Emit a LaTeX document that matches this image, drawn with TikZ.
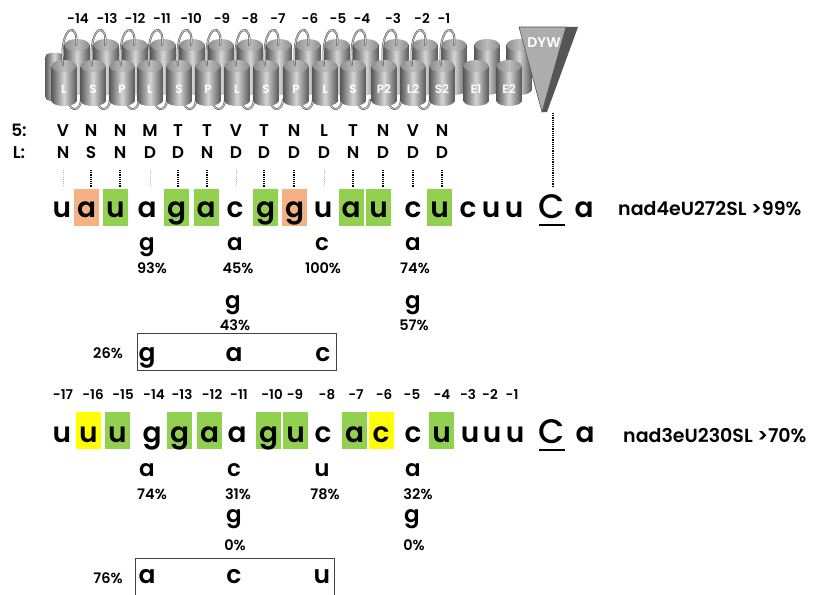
\documentclass[tikz,border=0pt]{standalone}
\usepackage{fontspec}
\setmainfont{Poppins}
\IfFontExistsTF{Poppins SemiBold}{\newfontfamily\seqfont{Poppins SemiBold}}{\newcommand\seqfont{\bfseries}}
\IfFontExistsTF{Poppins Medium}{\newfontfamily\medfont{Poppins Medium}}{\newcommand\medfont{\bfseries}}
\definecolor{hlgreen}{HTML}{92D050}
\definecolor{hlorange}{HTML}{F4B183}
\definecolor{hlyellow}{HTML}{FFFF00}
\definecolor{cyldark}{HTML}{5A5A5A}
\definecolor{cyllight}{HTML}{D6D6D6}
\definecolor{capdark}{HTML}{8C8C8C}
\definecolor{caplight}{HTML}{BDBDBD}
\definecolor{loopcol}{HTML}{5C5C5C}
\definecolor{dywlight}{HTML}{ADADAD}
\definecolor{dywdark}{HTML}{555555}
\begin{document}
\begin{tikzpicture}[x=1pt,y=-1pt,
  posnum/.style={font=\fontsize{13.5}{13.5}\selectfont\seqfont, anchor=base, inner sep=0pt},
  resid/.style={font=\fontsize{17}{17}\selectfont\seqfont, anchor=base, inner sep=0pt},
  nt/.style={font=\fontsize{28}{28}\selectfont\seqfont, anchor=base, inner sep=0pt},
  bigC/.style={font=\fontsize{34}{34}\selectfont\medfont, anchor=base, inner sep=0pt},
  altnt/.style={font=\fontsize{23}{23}\selectfont\seqfont, anchor=base, inner sep=0pt},
  boxnt/.style={font=\fontsize{25}{25}\selectfont\seqfont, anchor=base, inner sep=0pt},
  pct/.style={font=\fontsize{14.5}{14.5}\selectfont\seqfont, anchor=base, inner sep=0pt},
  tag/.style={font=\fontsize{19}{19}\selectfont\seqfont, anchor=base west, inner sep=0pt},
  hlbox/.style={minimum width=25pt, minimum height=37pt, inner sep=0pt},
  motif/.style={font=\fontsize{12}{12}\selectfont\seqfont, text=white, inner sep=0pt},
  darkdot/.style={line width=1.3pt, dash pattern=on 1.1pt off 1.1pt},
  lightdot/.style={line width=1pt, dash pattern=on 1pt off 1.2pt, draw=gray!60},
  cylbody/.style={left color=cyldark, right color=cyldark, middle color=cyllight},
  cylcap/.style={left color=capdark, right color=capdark, middle color=caplight},
  helixloop/.style={draw=loopcol, double=gray!40, double distance=0.8pt, line width=0.6pt},
  framebox/.style={draw=black!75, line width=0.8pt}
]
\useasboundingbox (0,0) rectangle (813,594);

% ---------------- PPR protein cartoon ----------------
% partly hidden helix at the far left
\shade[cylbody, rounded corners=5pt] (45,53) rectangle (64,101);

% back row of helices
\foreach \bx in {77,106,135,163,192,221,250,279,308,337,366,396,425,454,487,519} {
  \shade[cylbody] ({\bx-12.5},45) rectangle ({\bx+12.5},90);
  \shade[cylbody] (\bx,90) ellipse [x radius=12.5, y radius=5];
  \shade[cylcap] (\bx,45) ellipse [x radius=12.5, y radius=6];
}

% loops under the front helices
\foreach \fx in {64,93,122,150,179,208,237,266,296,325,353,384,413} {
  \draw[helixloop] ({\fx+5},101) .. controls ({\fx+5},112) and ({\fx+17},112) .. ({\fx+17},99);
}

% front row of helices with their motif names
\foreach \fx/\lab [count=\i] in {64/L,93/S,122/P,150/L,179/S,208/P,237/L,266/S,296/P,325/L,353/S,384/P2,413/L2,442/S2,476/E1,509/E2} {
  \shade[cylbody] ({\fx-12.5},66) rectangle ({\fx+12.5},101);
  \shade[cylbody] (\fx,101) ellipse [x radius=12.5, y radius=5];
  \shade[cylcap] (\fx,66) ellipse [x radius=12.5, y radius=6];
  \node[motif] (h\i) at (\fx,89) {\lab};
}

% loops over the top, one per PPR motif
\foreach \fx in {64,93,122,150,179,208,237,266,296,325,353,384,413,442} {
  \draw[helixloop] ({\fx-1},66) .. controls ({\fx-5},22) and ({\fx+16},22) .. ({\fx+12},46);
}

% motif positions
\foreach \x/\t [count=\i] in {78/-14,107/-13,135/-12,162/-11,191/-10,222/-9,250/-8,278/-7,310/-6,338/-5,362/-4,393/-3,422/-2,444/-1} {
  \node[posnum] (p\i) at (\x,24) {\t};
}

% DYW domain
\fill[dywlight, draw=dywdark, line width=0.6pt] (519,27) -- (566,27) -- (542,112) -- cycle;
\fill[dywdark] (566,27) -- (578,27) -- (547,112) -- (542,112) -- cycle;
\node[motif, font=\fontsize{14}{14}\selectfont\seqfont] (dyw) at (544,43) {DYW};

% ---------------- residues 5 and L of each motif ----------------
\node[resid] (lab5) at (19,136) {5:};
\node[resid] (labL) at (19,158) {L:};
\foreach \x/\a/\b [count=\i] in {63/V/N,91/N/S,120/N/N,150/M/D,178/T/D,207/T/N,236/V/D,264/T/D,294/N/D,324/L/D,353/T/N,383/N/D,413/V/D,442/N/D} {
  \node[resid] (r5-\i) at (\x,136) {\a};
  \node[resid] (rL-\i) at (\x,158) {\b};
}
\foreach \x in {91,120,178,207,264,294,353,383,413,442} {
  \draw[darkdot] (\x,170) -- (\x,187);
}
\foreach \x in {63,150,236,324} {
  \draw[lightdot] (\x,170) -- (\x,187);
}
\draw[darkdot] (553,113) -- (553,187);

% ---------------- nad4eU272SL ----------------
\foreach \x in {86.5,294.5} { \node[hlbox, fill=hlorange] at (\x,207.5) {}; }
\foreach \x in {115.5,176.5,206,265.5,351,378.5,439.5} { \node[hlbox, fill=hlgreen] at (\x,207.5) {}; }
\foreach \x/\t [count=\i] in {62/u,86.5/a,115.5/u,147/a,176.5/g,206/a,235/c,265.5/g,294.5/g,323/u,351/a,378.5/u,413/c,439.5/u,468/c,491/u,514/u,584/a} {
  \node[nt] (s\i) at (\x,217) {\t};
}
\node[bigC] (edit1) at (552,218) {C};
\draw[line width=2.6pt] ([yshift=-7pt]edit1.base west) -- ([yshift=-7pt]edit1.base east);
\node[tag] (name1) at (618,215) {nad4eU272SL >99\%};

\node[altnt] (x1) at (147,250) {g};  \node[pct] (q1) at (152,273) {93\%};
\node[altnt] (x2) at (235,250) {a};  \node[pct] (q2) at (238,273) {45\%};
\node[altnt] (x3) at (322,250) {c};  \node[pct] (q3) at (323,273) {100\%};
\node[altnt] (x4) at (413,250) {a};  \node[pct] (q4) at (415,273) {74\%};
\node[altnt] (x5) at (233,308) {g};  \node[pct] (q5) at (235,330) {43\%};
\node[altnt] (x6) at (413,308) {g};  \node[pct] (q6) at (414,330) {57\%};

\draw[framebox] (137,333) rectangle (336,370);
\node[pct] (q7) at (108,358) {26\%};
\node[boxnt] (y1) at (147,361) {g};
\node[boxnt] (y2) at (234,361) {a};
\node[boxnt] (y3) at (323,361) {c};

% ---------------- nad3eU230SL ----------------
\foreach \x/\t [count=\i] in {63/-17,93/-16,123/-15,154/-14,182/-13,212/-12,239/-11,272/-10,295/-9,327/-8,356/-7,384/-6,412/-5,442/-4,468/-3,490/-2,512/-1} {
  \node[posnum] (n\i) at (\x,399) {\t};
}
\foreach \x in {88.5,381} { \node[hlbox, fill=hlyellow] at (\x,430.5) {}; }
\foreach \x in {117.5,179.5,209.5,268.5,295.5,354.5,441.5} { \node[hlbox, fill=hlgreen] at (\x,430.5) {}; }
\foreach \x/\t [count=\i] in {62/u,88.5/u,117.5/u,152/g,179.5/g,209.5/a,237/a,268.5/g,295.5/u,323/c,354.5/a,381/c,413/c,441.5/u,470/u,492/u,515/u,585/a} {
  \node[nt] (t\i) at (\x,442) {\t};
}
\node[bigC] (edit2) at (552,443) {C};
\draw[line width=2.6pt] ([yshift=-7pt]edit2.base west) -- ([yshift=-7pt]edit2.base east);
\node[tag] (name2) at (623,442) {nad3eU230SL >70\%};

\node[altnt] (z1) at (147,476) {a};  \node[pct] (w1) at (152,499) {74\%};
\node[altnt] (z2) at (234,476) {c};  \node[pct] (w2) at (238,499) {31\%};
\node[altnt] (z3) at (322,476) {u};  \node[pct] (w3) at (325,499) {78\%};
\node[altnt] (z4) at (413,476) {a};  \node[pct] (w4) at (418,499) {32\%};
\node[altnt] (z5) at (234,522) {g};  \node[pct] (w5) at (235,550) {0\%};
\node[altnt] (z6) at (412,522) {g};  \node[pct] (w6) at (414,550) {0\%};

\draw[framebox] (135,600) -- (135,558) -- (334,558) -- (334,600);
\node[pct] (w7) at (108,583) {76\%};
\node[boxnt] (v1) at (147,583) {a};
\node[boxnt] (v2) at (234,583) {c};
\node[boxnt] (v3) at (322,583) {u};
\end{tikzpicture}
\end{document}
